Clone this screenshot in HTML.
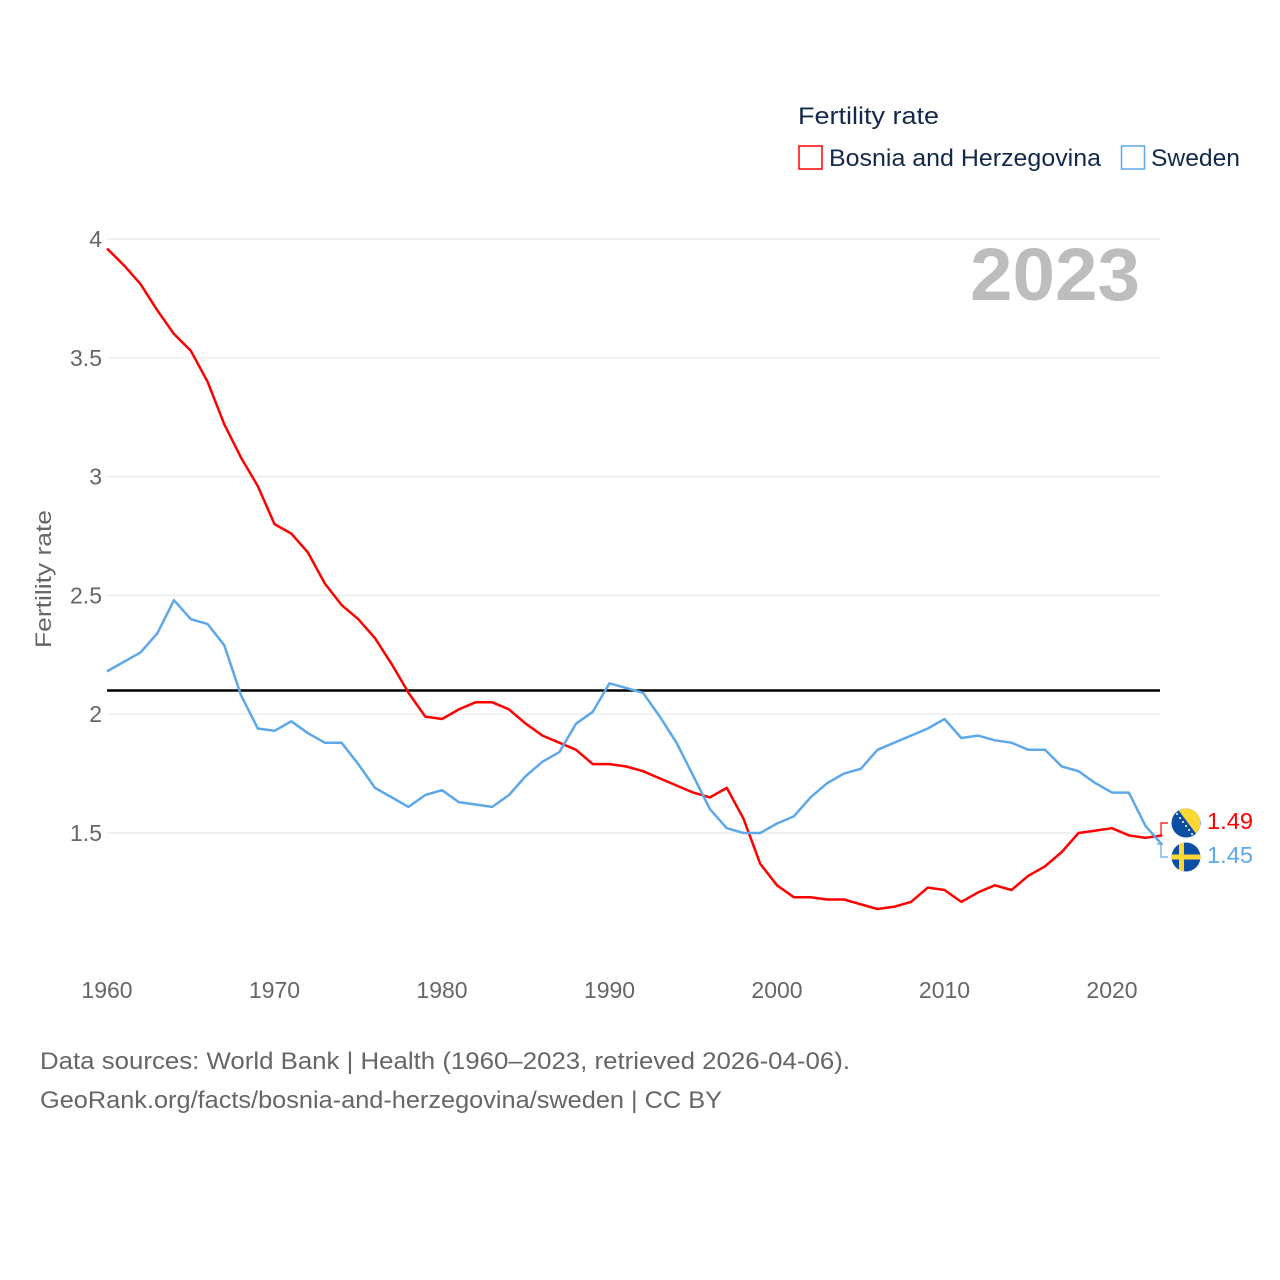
<!DOCTYPE html>
<html><head><meta charset="utf-8"><style>
body{margin:0;background:#fff;font-family:"Liberation Sans",sans-serif}
svg{display:block}
</style></head><body>
<svg width="1280" height="1280" viewBox="0 0 1280 1280">
<g id="grid"></g>
<g id="ylabels" font-size="23" fill="#666" text-anchor="end"></g>
<g id="xlabels" font-size="23" fill="#666" text-anchor="middle"></g>
<line id="refline" x1="107" x2="1160" stroke="#000" stroke-width="2.5"/>
<text x="970" y="300" font-size="74" font-weight="bold" fill="#bdbdbd" textLength="170" lengthAdjust="spacingAndGlyphs">2023</text>
<text transform="translate(51,579) rotate(-90)" font-size="22" fill="#666" text-anchor="middle" textLength="138" lengthAdjust="spacingAndGlyphs">Fertility rate</text>
<path id="lineBA" fill="none" stroke="#ff0000" stroke-width="2.5" stroke-linejoin="round"/>
<path id="lineSE" fill="none" stroke="#5ea8ea" stroke-width="2.5" stroke-linejoin="round"/>
<path d="M1157 836 H1161 V823 H1168" fill="none" stroke="#ff0000" stroke-width="1.2"/>
<path d="M1157 844 H1161 V857 H1168" fill="none" stroke="#5ea8ea" stroke-width="1.2"/>
<g>
<clipPath id="cb"><circle cx="1186" cy="823" r="14.5"/></clipPath>
<g clip-path="url(#cb)"><rect x="1170" y="807" width="32" height="32" fill="#0b4ea2"/><polygon points="1176,807 1200,807 1200,839" fill="#fdd835"/><polygon points="1176,807 1200,839 1194,839 1170,811" fill="#0b4ea2"/>
<g fill="#fff"><circle cx="1177" cy="814" r="1"/><circle cx="1180" cy="818" r="1"/><circle cx="1183" cy="822" r="1"/><circle cx="1186" cy="826" r="1"/><circle cx="1189" cy="830" r="1"/><circle cx="1192" cy="834" r="1"/></g></g></g>
<g>
<clipPath id="cs"><circle cx="1186" cy="857" r="14.5"/></clipPath>
<g clip-path="url(#cs)"><rect x="1170" y="841" width="32" height="32" fill="#0b4ea2"/><rect x="1170" y="854.5" width="32" height="5" fill="#fdd835"/><rect x="1179" y="841" width="5" height="32" fill="#fdd835"/></g></g>
<text x="1207" y="829" font-size="23" fill="#ff0000" textLength="46" lengthAdjust="spacingAndGlyphs">1.49</text>
<text x="1207" y="863" font-size="23" fill="#5ea8ea" textLength="46" lengthAdjust="spacingAndGlyphs">1.45</text>
<text x="798" y="124" font-size="24" fill="#14294a" textLength="141" lengthAdjust="spacingAndGlyphs">Fertility rate</text>
<g><rect x="799" y="146" width="23" height="23" fill="none" stroke="#ff0000" stroke-width="1.5"/><text x="829" y="166" font-size="24" fill="#14294a" textLength="272" lengthAdjust="spacingAndGlyphs">Bosnia and Herzegovina</text></g>
<g><rect x="1121.5" y="146" width="23" height="23" fill="none" stroke="#5ea8ea" stroke-width="1.5"/><text x="1151" y="166" font-size="24" fill="#14294a" textLength="89" lengthAdjust="spacingAndGlyphs">Sweden</text></g>
<text x="40" y="1069" font-size="24" fill="#666" textLength="810" lengthAdjust="spacingAndGlyphs">Data sources: World Bank | Health (1960–2023, retrieved 2026-04-06).</text>
<text x="40" y="1108" font-size="24" fill="#666" textLength="682" lengthAdjust="spacingAndGlyphs">GeoRank.org/facts/bosnia-and-herzegovina/sweden | CC BY</text>
</svg>
<script>
const years=[];for(let y=1960;y<=2023;y++)years.push(y);
const bosnia=[3.96,3.89,3.81,3.70,3.60,3.53,3.40,3.22,3.08,2.96,2.80,2.76,2.68,2.55,2.46,2.40,2.32,2.21,2.09,1.99,1.98,2.02,2.05,2.05,2.02,1.96,1.91,1.88,1.85,1.79,1.79,1.78,1.76,1.73,1.70,1.67,1.65,1.69,1.56,1.37,1.28,1.23,1.23,1.22,1.22,1.20,1.18,1.19,1.21,1.27,1.26,1.21,1.25,1.28,1.26,1.32,1.36,1.42,1.50,1.51,1.52,1.49,1.48,1.49];
const sweden=[2.18,2.22,2.26,2.34,2.48,2.40,2.38,2.29,2.08,1.94,1.93,1.97,1.92,1.88,1.88,1.79,1.69,1.65,1.61,1.66,1.68,1.63,1.62,1.61,1.66,1.74,1.80,1.84,1.96,2.01,2.13,2.11,2.09,1.99,1.88,1.74,1.60,1.52,1.50,1.50,1.54,1.57,1.65,1.71,1.75,1.77,1.85,1.88,1.91,1.94,1.98,1.90,1.91,1.89,1.88,1.85,1.85,1.78,1.76,1.71,1.67,1.67,1.53,1.45];
const yTicks=[1.5,2,2.5,3,3.5,4];
const yTickLabels=["1.5","2","2.5","3","3.5","4"];
const xTicks=[1960,1970,1980,1990,2000,2010,2020];
const replacementRate=[2.1];
const X=yr=>107+(yr-1960)*16.75;
const Y=v=>239+(4-v)*237.6;
const NS="http://www.w3.org/2000/svg";
const grid=document.getElementById('grid'),yl=document.getElementById('ylabels'),xl=document.getElementById('xlabels');
yTicks.forEach((t,i)=>{
 const l=document.createElementNS(NS,'line');
 l.setAttribute('x1',107);l.setAttribute('x2',1160);l.setAttribute('y1',Y(t));l.setAttribute('y2',Y(t));
 l.setAttribute('stroke','#e8e8e8');l.setAttribute('stroke-width','1.2');
 
 
 grid.appendChild(l);
 const tx=document.createElementNS(NS,'text');
 tx.setAttribute('x',102);tx.setAttribute('y',Y(t)+8);tx.textContent=yTickLabels[i];
 
 
 yl.appendChild(tx);
});
xTicks.forEach(t=>{
 const tx=document.createElementNS(NS,'text');
 tx.setAttribute('x',X(t));tx.setAttribute('y',998);tx.textContent=t;
 
 
 xl.appendChild(tx);
});
const rl=document.getElementById('refline');
rl.setAttribute('y1',Y(replacementRate[0]));rl.setAttribute('y2',Y(replacementRate[0]));
const path=arr=>arr.map((v,i)=>(i?'L':'M')+X(years[i]).toFixed(1)+' '+Y(v).toFixed(1)).join(' ');
document.getElementById('lineBA').setAttribute('d',path(bosnia));
document.getElementById('lineSE').setAttribute('d',path(sweden));
</script>
</body></html>
